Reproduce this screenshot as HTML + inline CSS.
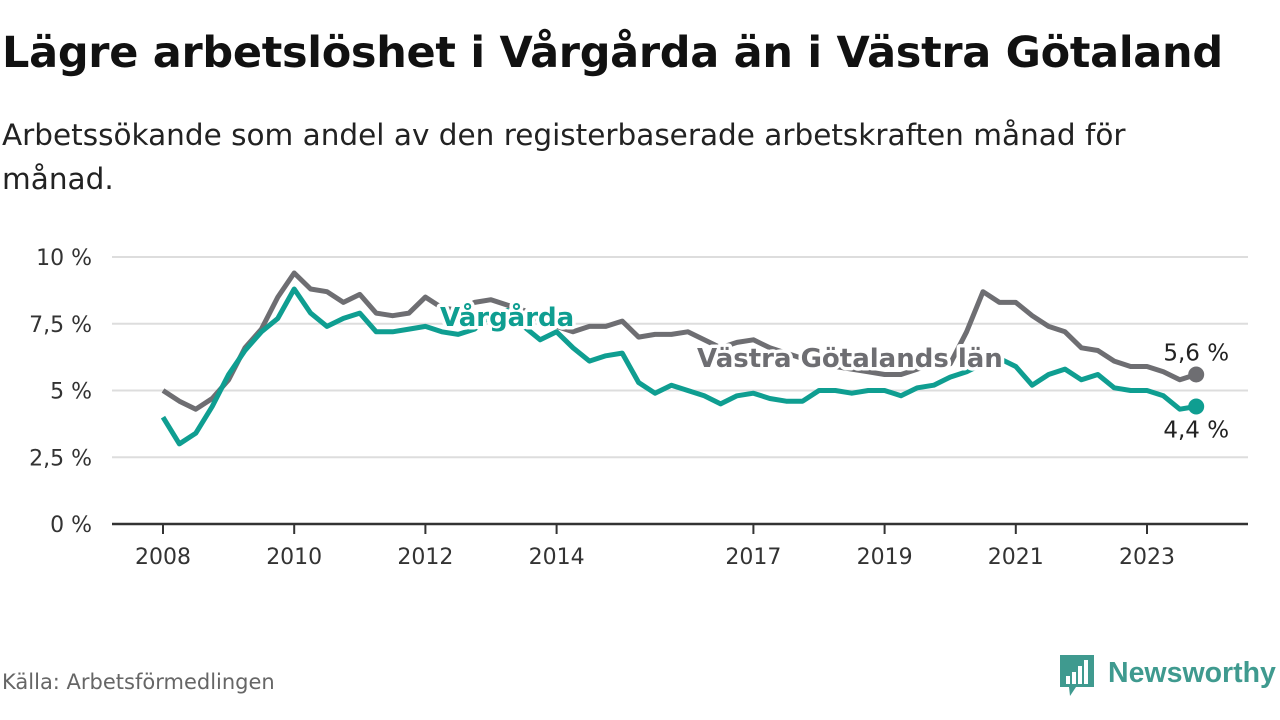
<!DOCTYPE html>
<html><head><meta charset="utf-8"><style>
body{margin:0;width:1280px;height:720px;background:#fff;font-family:"Liberation Sans","DejaVu Sans",sans-serif;overflow:hidden;position:relative}
.t{position:absolute;left:2px;top:28px;font-size:43px;font-weight:bold;color:#111;font-family:"DejaVu Sans","Liberation Sans",sans-serif;letter-spacing:-0.3px}
.s{position:absolute;left:2px;top:113px;font-size:29.5px;line-height:44px;color:#222;width:1190px;font-family:"DejaVu Sans","Liberation Sans",sans-serif}
.src{position:absolute;left:2px;top:670px;font-size:21px;color:#666;font-family:"DejaVu Sans","Liberation Sans",sans-serif}
.logo{position:absolute;left:1058px;top:652px}
</style></head><body>
<div class="t">Lägre arbetslöshet i Vårgårda än i Västra Götaland</div>
<div class="s">Arbetssökande som andel av den registerbaserade arbetskraften månad för månad.</div>
<svg id="c" width="1280" height="720" style="position:absolute;left:0;top:0"></svg>
<div class="src">Källa: Arbetsförmedlingen</div>
<div class="logo">
<svg width="222" height="50"><path d="M2 3h34v32H18l-6 9-1-9H2z" fill="#3f9a8f"/><rect x="8" y="24" width="4" height="8" fill="#fff"/><rect x="14" y="20" width="4" height="12" fill="#fff"/><rect x="20" y="14" width="4" height="18" fill="#fff"/><rect x="26" y="8" width="4" height="24" fill="#fff"/>
<text x="50" y="30" font-size="28.5" font-weight="bold" fill="#3f9a8f" font-family="Liberation Sans, sans-serif">Newsworthy</text></svg></div>
<script>
const years=[2008,2010,2012,2014,2017,2019,2021,2023];
const yTicks=[0,2.5,5,7.5,10];
const yLabels=["0 %","2,5 %","5 %","7,5 %","10 %"];
const startYear=2008, step=0.25;
const vargarda=[4.0,3.0,3.4,4.4,5.6,6.5,7.2,7.7,8.8,7.9,7.4,7.7,7.9,7.2,7.2,7.3,7.4,7.2,7.1,7.3,7.8,8.0,7.4,6.9,7.2,6.6,6.1,6.3,6.4,5.3,4.9,5.2,5.0,4.8,4.5,4.8,4.9,4.7,4.6,4.6,5.0,5.0,4.9,5.0,5.0,4.8,5.1,5.2,5.5,5.7,6.0,6.2,5.9,5.2,5.6,5.8,5.4,5.6,5.1,5.0,5.0,4.8,4.3,4.4];
const vastra=[5.0,4.6,4.3,4.7,5.4,6.6,7.3,8.5,9.4,8.8,8.7,8.3,8.6,7.9,7.8,7.9,8.5,8.1,8.0,8.3,8.4,8.2,8.0,7.6,7.4,7.2,7.4,7.4,7.6,7.0,7.1,7.1,7.2,6.9,6.6,6.8,6.9,6.6,6.4,6.2,6.0,5.9,5.8,5.7,5.6,5.6,5.8,6.0,6.0,7.2,8.7,8.3,8.3,7.8,7.4,7.2,6.6,6.5,6.1,5.9,5.9,5.7,5.4,5.6];
const NS="http://www.w3.org/2000/svg",svg=document.getElementById('c');
const X=y=>163+(y-2008)*65.6, Y=v=>524-v*26.7;
function mk(t,a,p){const e=document.createElementNS(NS,t);for(const k in a)e.setAttribute(k,a[k]);(p||svg).appendChild(e);return e;}
yTicks.forEach((v,i)=>{
 if(v>0){const g=mk('line',{x1:112,x2:1248,y1:Y(v),y2:Y(v),stroke:'#ddd','stroke-width':2});
 
 }
 const t=mk('text',{x:92,y:Y(v)+8,'text-anchor':'end','font-size':22,fill:'#333','font-family':'DejaVu Sans, Liberation Sans, sans-serif'});t.textContent=yLabels[i];
 
 
});
const ax=mk('line',{x1:112,x2:1248,y1:524,y2:524,stroke:'#333','stroke-width':2.5});


years.forEach(y=>{
 mk('line',{x1:X(y),x2:X(y),y1:524,y2:534,stroke:'#333','stroke-width':2});
 const t=mk('text',{x:X(y),y:564,'text-anchor':'middle','font-size':22,fill:'#333','font-family':'DejaVu Sans, Liberation Sans, sans-serif'});t.textContent=y;
 
 
});
function line(d,col,name){
 const p=d.map((v,i)=>(i?'L':'M')+X(startYear+i*step).toFixed(1)+' '+Y(v).toFixed(1)).join('');
 const e=mk('path',{d:p,fill:'none',stroke:col,'stroke-width':5,'stroke-linejoin':'round'});
 
 
 const n=d.length-1;
 const c=mk('circle',{cx:X(startYear+n*step),cy:Y(d[n]),r:8,fill:col});
 
 
 return [X(startYear+n*step),Y(d[n])];
}
const e1=line(vastra,'#6e6e72','vastra-gotaland-line');
const e2=line(vargarda,'#0f9e91','vargarda-line');
function lbl(x,y,s,col,fs,bold,name,anchor){
 const t=mk('text',{x:x,y:y,'font-size':fs,fill:col,'font-weight':bold?'bold':'normal','text-anchor':anchor||'start',stroke:'#fff','stroke-width':7,'paint-order':'stroke','stroke-linejoin':'round','font-family':'DejaVu Sans, Liberation Sans, sans-serif'});
 t.textContent=s;
 
 
}
lbl(440,326,'Vårgårda','#0f9e91',26,true,'vargarda-label');
lbl(697,367,'Västra Götalands län','#6e6e72',26,true,'vastra-label');
lbl(e1[0],e1[1]-14,'5,6 %','#222',23,false,'vastra-end-value','middle');
lbl(e2[0],e2[1]+31,'4,4 %','#222',23,false,'vargarda-end-value','middle');
</script>
</body></html>
